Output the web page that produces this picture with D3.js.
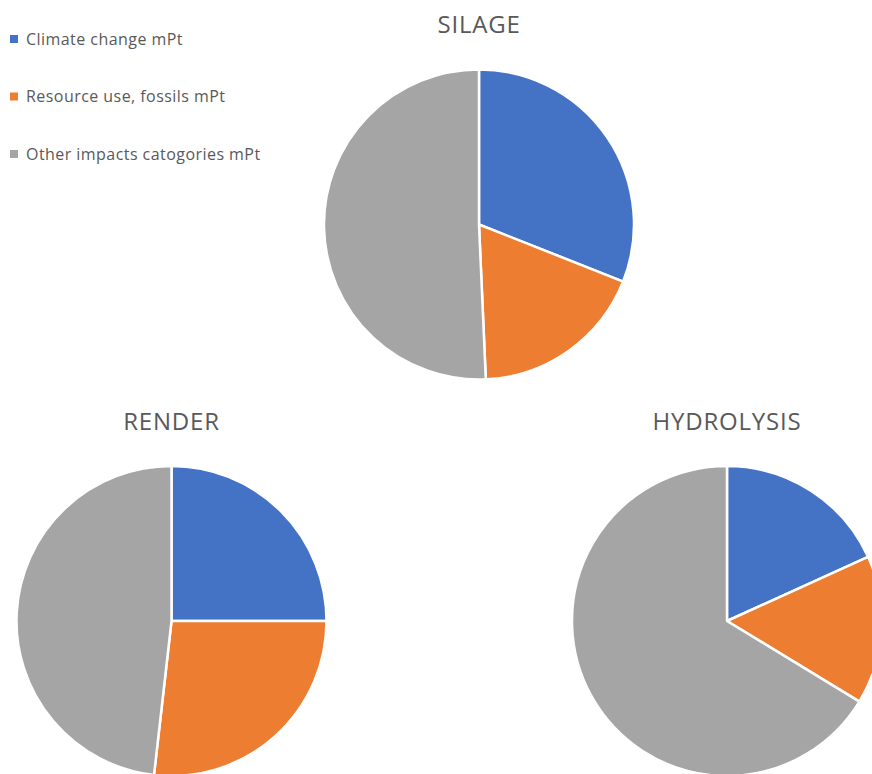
<!DOCTYPE html>
<html>
<head>
<meta charset="utf-8">
<script src="https://cdn.jsdelivr.net/npm/d3@7"></script>
<style>
  html, body { margin: 0; padding: 0; background: #fff; overflow: hidden; }
  svg { display: block; }
</style>
</head>
<body>
<svg id="chart" width="872" height="774"></svg>
<script>
// Impact categories (shared legend)
const categories = ["Climate change mPt", "Resource use, fossils mPt", "Other impacts catogories mPt"];
const colors = ["#4472C4", "#ED7D31", "#A5A5A5"];

// Share of total single score per process (%)
const silage = [31.0, 18.3, 50.7];
const render = [25.0, 26.8, 48.2];
const hydrolysis = [18.2, 15.5, 66.3];

const processes = [
  { name: "SILAGE", values: silage, cx: 479, cy: 224.5, ty: 33 },
  { name: "RENDER", values: render, cx: 171.5, cy: 621, ty: 430 },
  { name: "HYDROLYSIS", values: hydrolysis, cx: 727, cy: 621, ty: 430 }
];

const svg = d3.select("#chart");
const radius = 155;
const font = "'Open Sans', 'Liberation Sans', sans-serif";

const pie = d3.pie().sort(null).value(d => d);
const arc = d3.arc().innerRadius(0).outerRadius(radius);

processes.forEach(p => {
  const g = svg.append("g").attr("transform", `translate(${p.cx},${p.cy})`);
  g.selectAll("path")
    .data(pie(p.values))
    .join("path")
    .attr("d", arc)
    .attr("fill", (d, i) => colors[i])
    .attr("stroke", "#fff")
    .attr("stroke-width", 2.5)
    .attr("stroke-linejoin", "round");

  svg.append("text")
    .attr("x", p.cx)
    .attr("y", p.ty)
    .attr("text-anchor", "middle")
    .attr("font-family", font)
    .attr("font-size", 24)
    .attr("letter-spacing", 0.8)
    .attr("fill", "#595959")
    .text(p.name);
});

// Legend
const legend = svg.append("g");
categories.forEach((c, i) => {
  const y = 39 + i * 57.5;
  legend.append("rect")
    .attr("x", 10).attr("y", y - 4)
    .attr("width", 8).attr("height", 8)
    .attr("fill", colors[i]);
  legend.append("text")
    .attr("x", 26).attr("y", y + 5.5)
    .attr("font-family", font)
    .attr("font-size", 16)
    .attr("letter-spacing", 0.45)
    .attr("fill", "#595959")
    .text(c);
});
</script>
</body>
</html>
